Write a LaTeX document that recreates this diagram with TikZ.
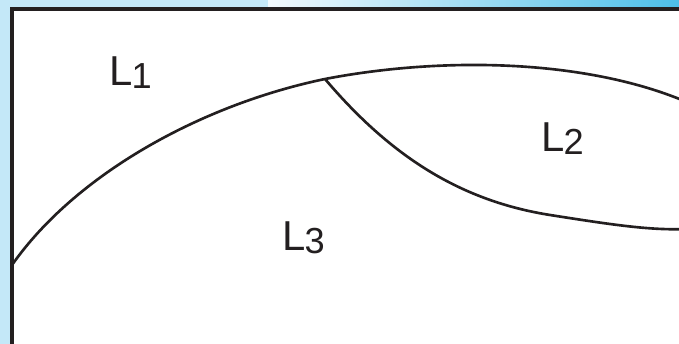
\documentclass[tikz,border=0pt]{standalone}
\usepackage{fontspec}
\setmainfont{Liberation Sans}
\usetikzlibrary{positioning}
\definecolor{bandblue}{HTML}{C4E8F8}
\definecolor{bandwhite}{HTML}{F2F9FD}
\definecolor{banddeep}{HTML}{4DBFE9}
\definecolor{inkgray}{HTML}{231F20}
\newcommand\regionfont{\fontsize{11.9}{14}\selectfont}
\newcommand\regionsub[1]{\kern-0.4pt\raisebox{-0.3mm}{\fontsize{10.3}{12}\selectfont #1}}

\begin{document}
\begin{tikzpicture}[
  x=0.1mm, y=-0.1mm,
  frame/.style={draw=inkgray, line width=0.95pt},
  border/.style={draw=inkgray, line width=0.75pt},
  region/.style={font=\regionfont, text=inkgray, anchor=base west, inner sep=0pt},
]
  \useasboundingbox (0,0) rectangle (679,344);
  \clip (0,0) rectangle (679,344);

  % Blue page bands
  \fill[bandblue] (0,0) rectangle (679,344);
  \shade[left color=bandwhite, right color=banddeep] (268,0) rectangle (679,9);

  % White panel
  \fill[white] (12,9) rectangle (700,360);
  \draw[frame] (12,360) -- (12,9) -- (700,9);

  % Outer boundary between L1 and the rest
  \draw[border] (12,265) .. controls (75,175) and (200,105) .. (325,79)
    .. controls (450,55) and (600,60) .. (700,108);

  % Boundary of L2
  \draw[border] (325,79) .. controls (392,158) and (462,201) .. (550,215)
    .. controls (620,226) and (660,232) .. (700,228);

  % Region labels
  \node[region] (l1) at (109,86) {L\regionsub{1}};
  \node[region] (l2) at (541,152) {L\regionsub{2}};
  \node[region] (l3) at (282,251) {L\regionsub{3}};
\end{tikzpicture}
\end{document}
